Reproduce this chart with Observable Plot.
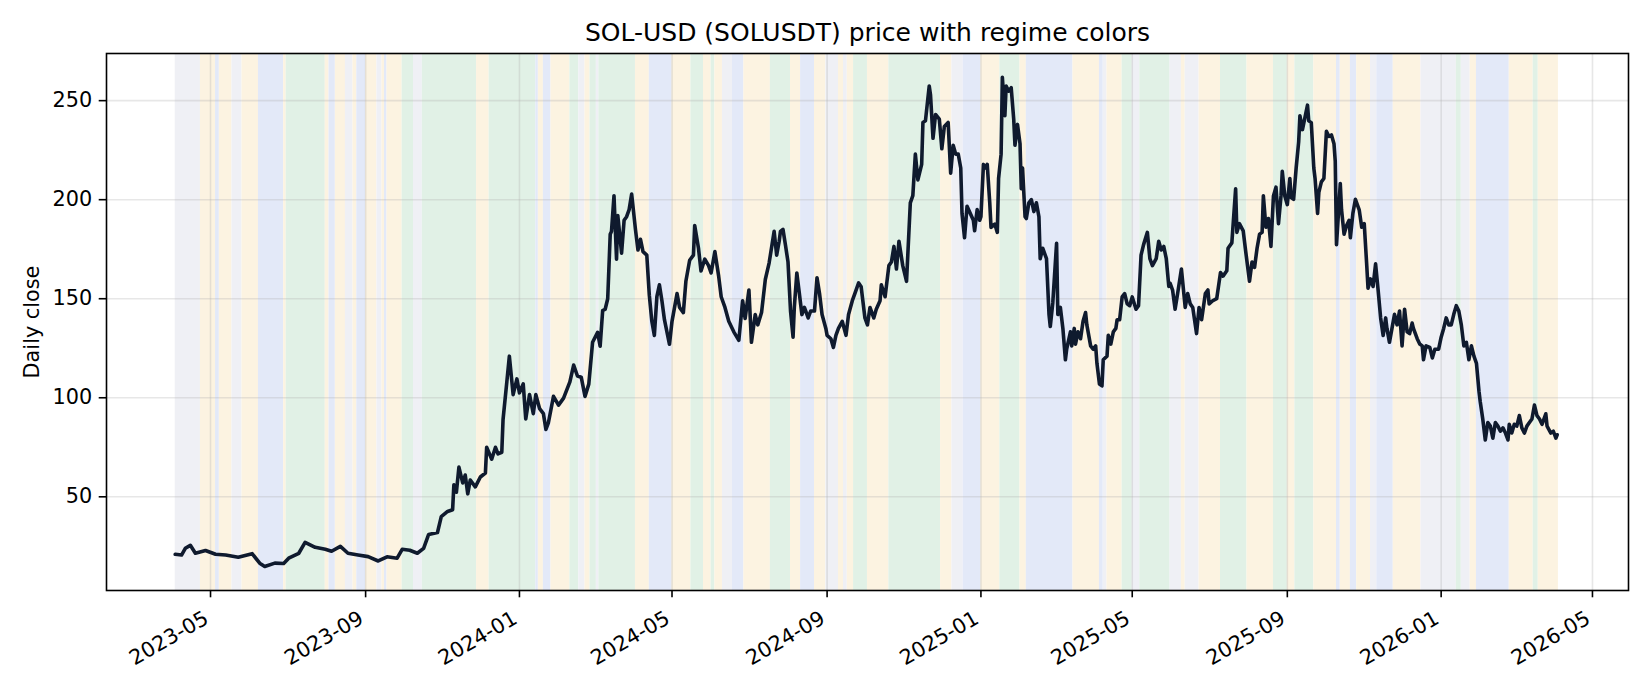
<!DOCTYPE html>
<html><head><meta charset="utf-8">
<script src="https://cdn.jsdelivr.net/npm/d3@7"></script>
<script src="https://cdn.jsdelivr.net/npm/@observablehq/plot@0.6"></script>
<style>
html,body{margin:0;padding:0;background:#fff;}
#chart{width:1650px;height:690px;}
</style></head>
<body><div id="chart"></div>
<script>
const title = "SOL-USD (SOLUSDT) price with regime colors";
const yLabel = "Daily close";
const xTickLabels = ["2023-05","2023-09","2024-01","2024-05","2024-09","2025-01","2025-05","2025-09","2026-01","2026-05"];
const yTicks = [50, 100, 150, 200, 250];

const regimeNames = ["neutral", "chop", "bear", "bull"];
const regimeColors = ["#eff0f5", "#fcf3e1", "#e3e9f8", "#e1f1e6"];
const regimeStarts = [
"2023-04-03","2023-04-23","2023-05-05","2023-05-08","2023-05-18","2023-05-26","2023-06-08","2023-06-28","2023-06-30","2023-07-31",
"2023-08-03","2023-08-08","2023-08-16","2023-08-22","2023-08-25","2023-09-01","2023-09-10","2023-09-14","2023-09-16","2023-09-18",
"2023-09-30","2023-10-09","2023-10-16","2023-11-28","2023-12-08","2024-01-14","2024-01-16","2024-01-20","2024-01-26","2024-02-10",
"2024-02-17","2024-02-22","2024-02-26","2024-03-02","2024-03-04","2024-04-02","2024-04-13","2024-05-01","2024-05-16","2024-05-26",
"2024-06-01","2024-06-04","2024-06-10","2024-06-18","2024-06-27","2024-07-18","2024-08-03","2024-08-11","2024-08-22","2024-08-31",
"2024-09-10","2024-09-14","2024-09-17","2024-09-22","2024-10-03","2024-10-20","2024-11-30","2024-12-09","2024-12-18","2025-01-01",
"2025-01-16","2025-02-01","2025-02-06","2025-03-15","2025-04-05","2025-04-08","2025-04-11","2025-04-23","2025-05-01","2025-05-07",
"2025-05-31","2025-06-09","2025-06-12","2025-06-23","2025-07-10","2025-07-31","2025-08-21","2025-09-01","2025-09-07","2025-09-22",
"2025-10-10","2025-10-13","2025-10-21","2025-10-26","2025-11-06","2025-11-11","2025-11-24","2025-12-16","2026-01-13","2026-01-17",
"2026-01-24","2026-01-29","2026-02-24","2026-03-15","2026-03-19"];
const regimeLabels = [
"neutral","chop","bear","chop","neutral","chop","bear","chop","bull","chop",
"bear","chop","neutral","chop","bear","chop","neutral","chop","bear","chop",
"bull","neutral","bull","chop","bull","bear","chop","bear","chop","bull",
"neutral","chop","bull","neutral","bull","chop","bear","chop","bull","chop",
"bull","chop","neutral","bear","chop","bull","chop","bear","chop","neutral",
"chop","neutral","chop","bull","chop","bull","chop","neutral","bear","chop",
"bull","chop","bear","chop","bear","neutral","chop","bull","neutral","bull",
"neutral","chop","neutral","chop","bull","chop","bull","chop","bull","chop",
"bear","chop","bear","chop","neutral","bear","chop","neutral","bull","neutral",
"chop","bear","chop","bull","chop"];
const regimeEnd = "2026-04-04";

const closeDates = [
"2023-04-03","2023-04-08","2023-04-11","2023-04-15","2023-04-19","2023-04-27","2023-05-05","2023-05-13","2023-05-23","2023-06-03",
"2023-06-09","2023-06-13","2023-06-21","2023-06-28","2023-07-02","2023-07-10","2023-07-15","2023-07-23","2023-07-31","2023-08-05",
"2023-08-12","2023-08-18","2023-08-26","2023-09-03","2023-09-11","2023-09-18","2023-09-26","2023-09-30","2023-10-06","2023-10-12",
"2023-10-17","2023-10-21","2023-10-28","2023-10-31","2023-11-05","2023-11-09","2023-11-10","2023-11-12","2023-11-14","2023-11-17",
"2023-11-19","2023-11-21","2023-11-23","2023-11-27","2023-12-01","2023-12-05","2023-12-06","2023-12-10","2023-12-13","2023-12-15",
"2023-12-18","2023-12-19","2023-12-22","2023-12-24","2023-12-27","2023-12-30","2024-01-01","2024-01-04","2024-01-06","2024-01-09",
"2024-01-12","2024-01-14","2024-01-17","2024-01-20","2024-01-22","2024-01-24","2024-01-28","2024-02-01","2024-02-05","2024-02-10",
"2024-02-13","2024-02-16","2024-02-19","2024-02-22","2024-02-25","2024-02-28","2024-03-03","2024-03-05","2024-03-07","2024-03-09",
"2024-03-11","2024-03-13","2024-03-14","2024-03-16","2024-03-18","2024-03-19","2024-03-22","2024-03-24","2024-03-26","2024-03-28",
"2024-03-30","2024-04-02","2024-04-04","2024-04-06","2024-04-08","2024-04-11","2024-04-13","2024-04-15","2024-04-17","2024-04-19",
"2024-04-21","2024-04-23","2024-04-25","2024-04-29","2024-05-01","2024-05-05","2024-05-07","2024-05-10","2024-05-12","2024-05-15",
"2024-05-18","2024-05-19","2024-05-22","2024-05-24","2024-05-27","2024-05-30","2024-06-01","2024-06-04","2024-06-07","2024-06-09",
"2024-06-12","2024-06-15","2024-06-19","2024-06-23","2024-06-26","2024-06-28","2024-07-01","2024-07-03","2024-07-06","2024-07-08",
"2024-07-11","2024-07-14","2024-07-17","2024-07-21","2024-07-23","2024-07-25","2024-07-26","2024-07-28","2024-07-30","2024-08-01",
"2024-08-03","2024-08-05","2024-08-06","2024-08-08","2024-08-10","2024-08-12","2024-08-14","2024-08-17","2024-08-19","2024-08-22",
"2024-08-24","2024-08-26","2024-08-28","2024-08-31","2024-09-01","2024-09-04","2024-09-06","2024-09-08","2024-09-10","2024-09-13",
"2024-09-16","2024-09-18","2024-09-21","2024-09-23","2024-09-26","2024-09-28","2024-10-01","2024-10-03","2024-10-05","2024-10-08",
"2024-10-10","2024-10-13","2024-10-14","2024-10-17","2024-10-20","2024-10-22","2024-10-24","2024-10-26","2024-10-28","2024-10-31",
"2024-11-03","2024-11-06","2024-11-08","2024-11-10","2024-11-12","2024-11-15","2024-11-16","2024-11-18","2024-11-21","2024-11-22",
"2024-11-24","2024-11-26","2024-11-29","2024-12-01","2024-12-03","2024-12-06","2024-12-08","2024-12-10","2024-12-12","2024-12-14",
"2024-12-16","2024-12-17","2024-12-19","2024-12-21","2024-12-26","2024-12-27","2024-12-29","2024-12-31","2025-01-01","2025-01-03",
"2025-01-05","2025-01-06","2025-01-08","2025-01-09","2025-01-12","2025-01-14","2025-01-15","2025-01-17","2025-01-18","2025-01-20",
"2025-01-21","2025-01-23","2025-01-25","2025-01-27","2025-01-28","2025-01-30","2025-02-01","2025-02-02","2025-02-03","2025-02-05",
"2025-02-06","2025-02-08","2025-02-10","2025-02-12","2025-02-14","2025-02-16","2025-02-17","2025-02-19","2025-02-22","2025-02-24",
"2025-02-25","2025-02-27","2025-03-02","2025-03-03","2025-03-05","2025-03-07","2025-03-09","2025-03-10","2025-03-13","2025-03-14",
"2025-03-16","2025-03-17","2025-03-19","2025-03-21","2025-03-23","2025-03-25","2025-03-26","2025-03-29","2025-03-31","2025-04-02",
"2025-04-03","2025-04-05","2025-04-07","2025-04-08","2025-04-11","2025-04-12","2025-04-14","2025-04-16","2025-04-18","2025-04-19",
"2025-04-21","2025-04-23","2025-04-25","2025-04-27","2025-04-29","2025-05-01","2025-05-04","2025-05-06","2025-05-08","2025-05-10",
"2025-05-13","2025-05-15","2025-05-17","2025-05-20","2025-05-22","2025-05-24","2025-05-26","2025-05-28","2025-05-30","2025-05-31",
"2025-06-02","2025-06-04","2025-06-06","2025-06-09","2025-06-12","2025-06-14","2025-06-16","2025-06-18","2025-06-21","2025-06-23",
"2025-06-25","2025-06-28","2025-06-30","2025-07-01","2025-07-04","2025-07-07","2025-07-10","2025-07-12","2025-07-15","2025-07-16",
"2025-07-19","2025-07-22","2025-07-23","2025-07-25","2025-07-28","2025-07-30","2025-08-02","2025-08-04","2025-08-06","2025-08-08",
"2025-08-10","2025-08-12","2025-08-13","2025-08-15","2025-08-17","2025-08-19","2025-08-21","2025-08-23","2025-08-25","2025-08-27",
"2025-08-28","2025-08-30","2025-09-01","2025-09-03","2025-09-04","2025-09-06","2025-09-08","2025-09-10","2025-09-11","2025-09-13",
"2025-09-15","2025-09-17","2025-09-18","2025-09-20","2025-09-22","2025-09-23","2025-09-25","2025-09-26","2025-09-28","2025-09-30",
"2025-10-02","2025-10-04","2025-10-06","2025-10-08","2025-10-09","2025-10-10","2025-10-13","2025-10-14","2025-10-16","2025-10-18",
"2025-10-20","2025-10-21","2025-10-23","2025-10-25","2025-10-28","2025-10-30","2025-11-01","2025-11-03","2025-11-04","2025-11-06",
"2025-11-08","2025-11-10","2025-11-12","2025-11-14","2025-11-16","2025-11-18","2025-11-19","2025-11-21","2025-11-23","2025-11-25",
"2025-11-27","2025-11-29","2025-12-01","2025-12-03","2025-12-05","2025-12-07","2025-12-09","2025-12-10","2025-12-13","2025-12-15",
"2025-12-17","2025-12-18","2025-12-20","2025-12-23","2025-12-25","2025-12-27","2025-12-30","2026-01-01","2026-01-03","2026-01-05",
"2026-01-07","2026-01-09","2026-01-11","2026-01-13","2026-01-15","2026-01-17","2026-01-19","2026-01-21","2026-01-23","2026-01-25",
"2026-01-27","2026-01-29","2026-01-31","2026-02-01","2026-02-03","2026-02-05","2026-02-07","2026-02-09","2026-02-11","2026-02-13",
"2026-02-15","2026-02-17","2026-02-19","2026-02-21","2026-02-23","2026-02-24","2026-02-26","2026-02-28","2026-03-02","2026-03-04",
"2026-03-06","2026-03-08","2026-03-10","2026-03-12","2026-03-14","2026-03-16","2026-03-18","2026-03-20","2026-03-22","2026-03-25",
"2026-03-26","2026-03-29","2026-03-31","2026-04-02","2026-04-03"];
const closeValues = [
21,20.6,24,25.5,21.5,22.9,21,20.6,19.5,21.3,
16.5,14.8,16.5,16.3,19,21.5,27,24.5,23.5,22.5,
25,21.5,20.6,19.8,17.6,19.7,19,23.5,23,21.5,
24,31,32,40,42.6,43.5,56,52.3,65,57,
61,51.5,58.5,55,60,62,75,69,75,71.7,
72.5,89,108,121,101.6,109.5,102.5,107,89.3,101.6,
92,101.6,94.5,92,84,87.5,100.7,96.3,99.8,108,
116.5,111,110.4,100.7,106.9,128,133,126,144,144.7,
150,182.6,184,202,170,192,173,189.6,191.4,195,
202.8,185,174.6,180,173.8,172,151.8,138.6,131.5,151,
157,149,139.4,127,138.6,152.6,145.6,143,158.8,169.4,
172,187,175.5,164,170,166.7,163,173.8,161.4,151,
145.6,138.6,133.3,129,149,140,154.4,128,142,136.8,
143,159.7,168,184,172,179,184,185,177,168.5,
143.8,130.6,145.6,163,152.6,142,145.6,140.3,143.8,143.8,
160.6,152.6,142,135,131.5,129.8,125.4,131.5,135,138.6,
131.5,142,149,152.6,158,156,140.3,136.8,145.6,140.3,
144.7,149,157,151,166.7,168.5,176.4,165,179,166.7,
158.8,198.4,202,223,210,217.8,239,239.8,257.4,253,
231,243,240.7,225.7,237,239,213.4,227.5,223,223,
216,193,180.8,196.7,189.6,184.3,195,189.6,191.4,217.8,
216,217.8,198.4,186,187.7,183.5,210.7,223,261.8,242.4,
257.4,254.8,256.5,240.7,227.5,238,228.3,205.5,216,191.4,
190.5,198.4,200,194,198.4,191.4,170.2,175.5,170.2,142,
136,148,178,142,145.6,135,119.2,124.5,133.3,126.2,
135,127.1,133.3,129.8,138.6,143,136.8,126.2,124.5,126.2,
117.4,106.9,106,119.2,121,131.5,127.1,133.3,135,139.4,
139.4,150.9,152.6,147.4,146.5,150.9,144.7,146.5,172,177.3,
183.5,170.2,166.7,170.2,179,174.6,176.4,170.2,156.2,157.9,
154.4,144.7,152.6,165,145.6,152.6,147.4,145.6,132.4,145.6,
139.4,152.6,154.4,147.4,149.1,150,163.2,161.4,164.1,175.5,
178.2,205.5,183.5,187.9,184.3,173.8,158.8,168.5,165.8,175.5,
182.6,183.5,201.9,186.1,190.5,176.4,201.9,206.3,187.9,201.9,
214.3,201.9,197.5,210.7,201.1,200.2,216,229.2,242.4,235.4,
241.5,247.7,239.8,238.9,216,210.7,193.1,203.7,209,210.7,
234.5,231.9,232.7,228.3,219.5,177.3,208.1,194.9,182.6,187,
189.6,180.8,193.1,200.2,194.9,186.1,187.9,166.7,155.3,160,
156.2,167.6,154.4,140.3,131.5,140.3,135,128,135,142.1,
136.8,143.8,126.2,144.7,133.3,132.4,137.7,135,129.8,127.1,
126.2,119.2,126.2,125.4,120.1,124.5,124.5,130.6,135,140.3,
136.8,136.8,142.1,146.5,143.8,136.8,126.2,128,119.2,126.2,
121,117.4,103.3,98,89.3,78.7,87.5,85.7,79.6,87.5,
85.7,83.1,84.8,82.2,78.7,86.6,82.2,86.6,85.7,91,
84.8,82.2,85.7,87.5,89.3,96.3,91,89.3,86.6,91.9,
85.7,82.2,83.1,79.6,81.3];

const parseDay = d3.utcParse("%Y-%m-%d");
const parseMonth = d3.utcParse("%Y-%m");
const fmtMonth = d3.utcFormat("%Y-%m");
const prices = closeDates.map((d, i) => ({date: parseDay(d), close: closeValues[i]}));
const regimes = regimeStarts.map((d, i) => ({
  start: parseDay(d),
  end: parseDay(i + 1 < regimeStarts.length ? regimeStarts[i + 1] : regimeEnd),
  regime: regimeLabels[i]
}));
const xTicks = xTickLabels.map(parseMonth);

const gridStyle = {stroke: "#b0b0b0", strokeOpacity: 0.3, strokeWidth: 1.6};

const chart = Plot.plot({
  width: 1650,
  height: 690,
  marginLeft: 106,
  marginRight: 22,
  marginTop: 53,
  marginBottom: 100,
  style: {fontFamily: "'DejaVu Sans', sans-serif", fontSize: "20.8px", color: "#000", background: "#fff", overflow: "visible"},
  x: {type: "utc", domain: [new Date(Date.UTC(2023, 1, 7, 12)), new Date(Date.UTC(2026, 4, 29, 14))]},
  y: {domain: [2.7, 273.8]},
  color: {domain: regimeNames, range: regimeColors},
  marks: [
    Plot.rect(regimes, {x1: "start", x2: "end", fill: "regime"}),
    Plot.gridX(xTicks, gridStyle),
    Plot.gridY(yTicks, gridStyle),
    Plot.line(prices, {x: "date", y: "close", stroke: "#0f1a2e", strokeWidth: 3.6, strokeLinejoin: "round"}),
    Plot.frame({stroke: "#000", strokeWidth: 1.6}),
    Plot.axisY(yTicks, {tickSize: 7.3, tickPadding: 7, label: null, fontSize: 20.8, strokeWidth: 1.6}),
    Plot.axisX(xTicks, {tickSize: 7.3, fill: "none", label: null, strokeWidth: 1.6}),
    Plot.text(xTicks, {x: d => d, text: d => fmtMonth(d), frameAnchor: "bottom", rotate: -30, textAnchor: "end", lineAnchor: "middle", dx: -4, dy: 26, fontSize: 20.8, fill: "#000"}),
    Plot.text([yLabel], {text: d => d, frameAnchor: "left", rotate: -90, dx: -74, fontSize: 20.8, textAnchor: "middle", lineAnchor: "middle", fill: "#000"}),
    Plot.text([title], {text: d => d, frameAnchor: "top", dy: -12.5, lineAnchor: "bottom", fontSize: 25, fill: "#000"})
  ]
});
document.getElementById("chart").appendChild(chart);
</script>
</body></html>
